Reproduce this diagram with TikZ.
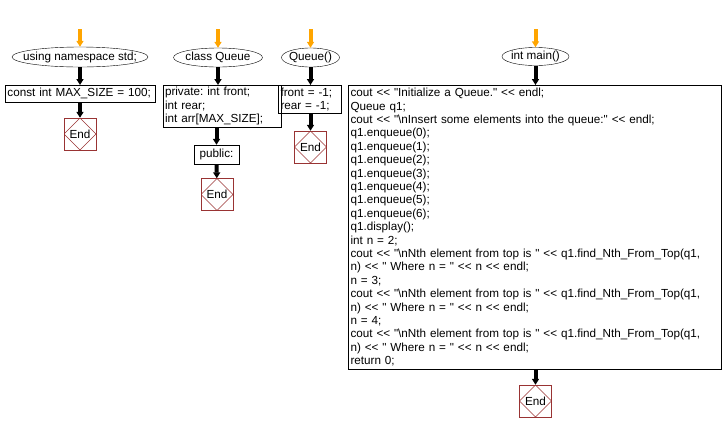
\documentclass[tikz,border=0pt]{standalone}
\usepackage{fontspec}
\setmainfont{Liberation Sans}[Ligatures=TeXOff]
\usetikzlibrary{positioning,arrows.meta,shapes.geometric}
\definecolor{startorange}{HTML}{FFA500}
\definecolor{endred}{HTML}{993333}
\frenchspacing

\begin{document}
\begin{tikzpicture}[
        x=1pt, y=-1pt,
        font=\fontsize{11.7}{13.4}\selectfont,
        term/.style={draw, ellipse, inner xsep=-12pt, inner ysep=0pt},
        proc/.style={draw, align=left, inner xsep=2.5pt, inner ysep=3pt, anchor=north},
        stopnode/.style={draw=endred, minimum size=32pt, inner sep=0pt,
            path picture={\draw[endred] (path picture bounding box.north) -- (path picture bounding box.east)
                -- (path picture bounding box.south) -- (path picture bounding box.west) -- cycle;}},
        flow/.style={line width=4pt, -{Triangle[length=6pt,width=7pt]}},
        go/.style={flow, startorange}
    ]
        \useasboundingbox (0,0) rectangle (724,432);

        % using namespace std
        \coordinate (s1) at (80,29);
        \node[term, minimum width=136pt, minimum height=20pt] (ns) at (80,57) {using namespace std;};
        \node[proc, text width=145pt] (size) at (80,85) {const int MAX\_SIZE = 100;};
        \node[stopnode] (end1) at (80,134) {End};

        % class Queue
        \coordinate (s2) at (218,29);
        \node[term, minimum width=89pt, minimum height=19pt] (cls) at (218,57.5) {class Queue};
        \node[proc, text width=114pt, inner xsep=2pt, inner ysep=2pt] (priv) at (222,85) {private: int front;\\int rear;\\int arr[MAX\_SIZE];};
        \node[proc, minimum width=45pt, minimum height=19pt, anchor=center] (pub) at (216.5,154.5) {public:};
        \node[stopnode] (end2) at (217,194.5) {End};

        % Queue()
        \coordinate (s3) at (310.5,29);
        \node[term, minimum width=58pt, minimum height=19pt] (ctor) at (310.5,57.5) {Queue()};
        \node[proc, text width=58pt, inner ysep=2.5pt] (init) at (309.5,85) {front = -1;\\rear = -1;};
        \node[stopnode] (end3) at (310.5,147) {End};

        % int main()
        \coordinate (s4) at (535.5,29);
        \node[term, minimum width=67pt, minimum height=18pt] (main) at (535.5,56.5) {int main()};
        \node[proc, text width=368pt] (body) at (534.5,85) {cout << "Initialize a Queue." << endl;\\
            Queue q1;\\
            cout << "\textbackslash nInsert some elements into the queue:" << endl;\\
            q1.enqueue(0);\\
            q1.enqueue(1);\\
            q1.enqueue(2);\\
            q1.enqueue(3);\\
            q1.enqueue(4);\\
            q1.enqueue(5);\\
            q1.enqueue(6);\\
            q1.display();\\
            int n = 2;\\
            cout << "\textbackslash nNth element from top is " << q1.find\_Nth\_From\_Top(q1,\\
            n) << " Where n = " << n << endl;\\
            n = 3;\\
            cout << "\textbackslash nNth element from top is " << q1.find\_Nth\_From\_Top(q1,\\
            n) << " Where n = " << n << endl;\\
            n = 4;\\
            cout << "\textbackslash nNth element from top is " << q1.find\_Nth\_From\_Top(q1,\\
            n) << " Where n = " << n << endl;\\
            return 0;};
        \node[stopnode] (end4) at (535.5,401) {End};

        \draw[go] (s1) -- (ns);
        \draw[flow] (ns) -- (ns |- size.north);
        \draw[flow] (end1 |- size.south) -- (end1);
        \draw[go] (s2) -- (cls);
        \draw[flow] (cls) -- (cls |- priv.north);
        \draw[flow] (pub |- priv.south) -- (pub);
        \draw[flow] (pub) -- (end2);
        \draw[go] (s3) -- (ctor);
        \draw[flow] (ctor) -- (ctor |- init.north);
        \draw[flow] (end3 |- init.south) -- (end3);
        \draw[go] (s4) -- (main);
        \draw[flow] (main) -- (main |- body.north);
        \draw[flow] (end4 |- body.south) -- (end4);
    \end{tikzpicture}
\end{document}
